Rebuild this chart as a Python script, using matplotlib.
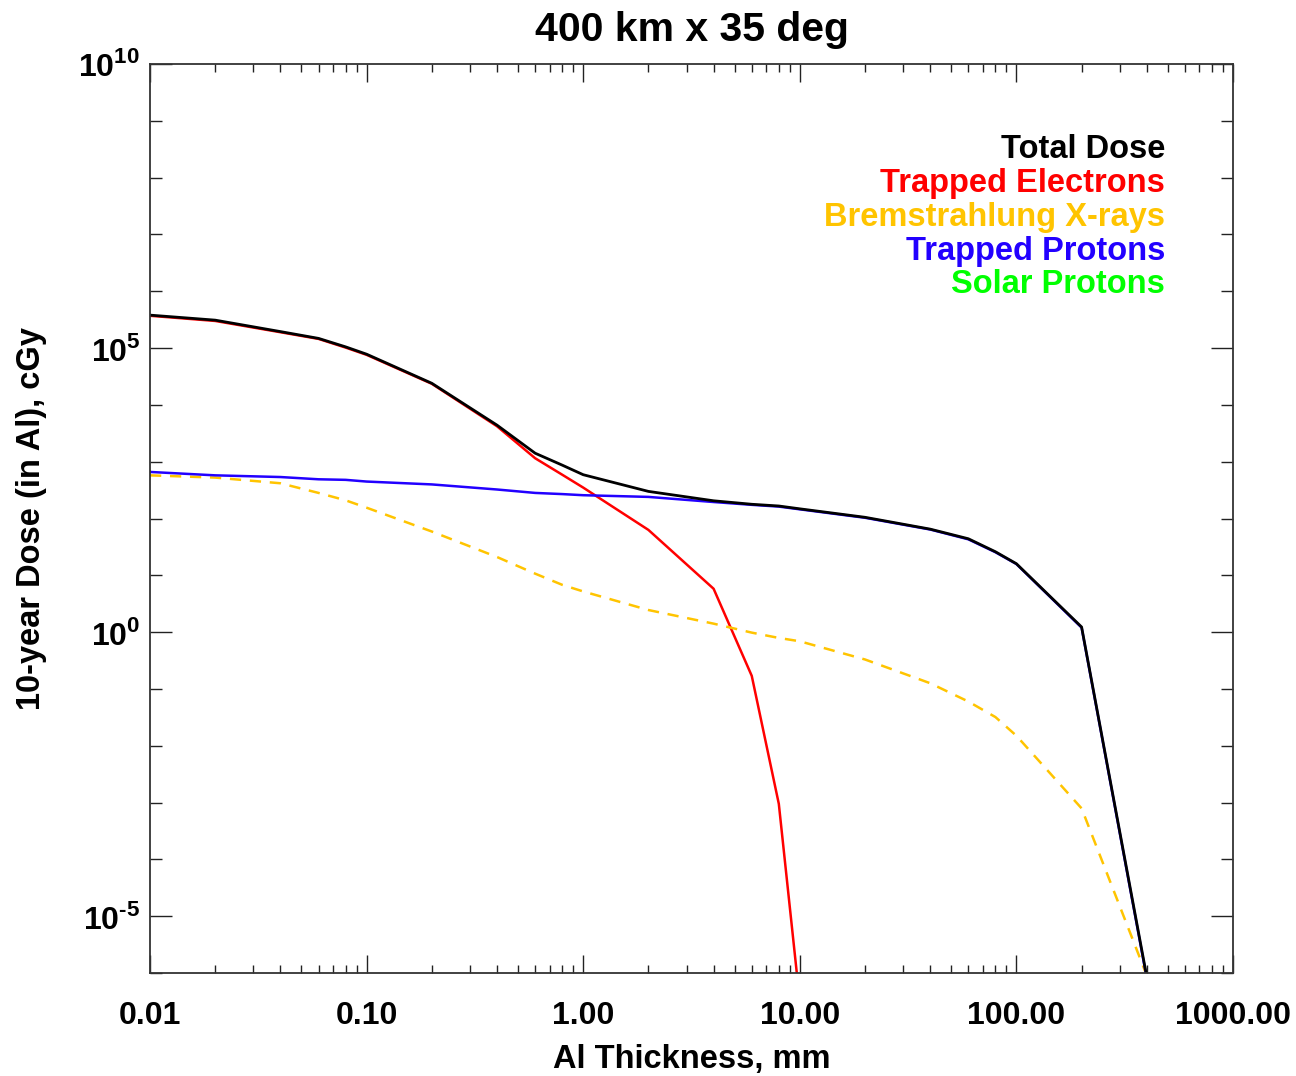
import numpy as np
import matplotlib
matplotlib.use("Agg")
import matplotlib.pyplot as plt
from matplotlib.ticker import FixedLocator, FuncFormatter, LogLocator, NullFormatter

plt.rcParams['font.family'] = ['Liberation Sans', 'DejaVu Sans']
plt.rcParams['font.weight'] = 'bold'
plt.rcParams['mathtext.fontset'] = 'custom'
plt.rcParams['mathtext.rm'] = 'Liberation Sans'
plt.rcParams['mathtext.bf'] = 'Liberation Sans:bold'

# ---- dose-depth curves (Al thickness in mm, dose in cGy over 10 years) ----
thickness = [0.01, 0.02, 0.04, 0.06, 0.08, 0.1, 0.2, 0.4, 0.6, 0.8, 1.0,
             2.0, 4.0, 6.0, 8.0, 10.0, 20.0, 40.0, 60.0, 80.0, 100.0, 200.0, 400.0]

total_dose = [3.8e5, 3.1e5, 1.95e5, 1.48e5, 1.05e5, 7.8e4, 2.4e4, 4.4e3, 1.41e3, 870, 590,
              300, 205, 178, 166, 148, 105, 65, 44, 26, 16, 1.23, 8.5e-7]

trapped_electrons = [3.7e5, 3.0e5, 1.9e5, 1.45e5, 1.02e5, 7.6e4, 2.35e4, 4.2e3, 1.15e3, 590, 350,
                     63, 5.8, 0.17, 9.5e-4, 3.2e-7]

bremsstrahlung = [575, 525, 417, 282, 209, 155, 59, 21, 10.7, 6.8, 5.2,
                  2.45, 1.41, 0.98, 0.79, 0.69, 0.33, 0.126, 0.06, 0.032, 0.015, 7.9e-4, 9.0e-7]

trapped_protons = [660, 575, 537, 490, 479, 447, 398, 324, 282, 269, 257,
                   240, 195, 174, 162, 145, 103, 64, 43, 25.5, 15.8, 1.2, 8.0e-7]

legend_labels = ['Total Dose', 'Trapped Electrons', 'Bremstrahlung X-rays',
                 'Trapped Protons', 'Solar Protons']
legend_colors = ['black', '#ff0000', '#ffc400', '#2200ff', '#00ff00']

fig = plt.figure(figsize=(12.96, 10.76), dpi=100)
ax = fig.add_axes([150 / 1296, 1 - 973 / 1076, 1083 / 1296, 909 / 1076])

ax.plot(thickness[:len(trapped_electrons)], trapped_electrons, color='#ff0000', lw=1.8)
ax.plot(thickness, bremsstrahlung, color='#ffc400', lw=1.8, dashes=(4.5, 3.5))
ax.plot(thickness, trapped_protons, color='#2200ff', lw=1.8)
ax.plot(thickness, total_dose, color='black', lw=2.0)

ax.set_xscale('log')
ax.set_yscale('log')
ax.set_xlim(0.01, 1000)
ax.set_ylim(1e-6, 1e10)

# x ticks: labelled decades, minor 2..9
ax.xaxis.set_major_locator(FixedLocator([0.01, 0.1, 1, 10, 100, 1000]))
ax.xaxis.set_minor_locator(LogLocator(base=10, subs=np.arange(2, 10), numticks=20))
ax.xaxis.set_major_formatter(FuncFormatter(lambda v, p: f'{v:.2f}'))
ax.xaxis.set_minor_formatter(NullFormatter())


def pow_label(v, p):
    k = int(round(np.log10(v)))
    exp = str(k).replace('-', '\u2010')
    return r'$\mathbf{10}^{\mathrm{%s}}$' % exp


# y ticks: labels every 5 decades, plain ticks at every decade
ax.yaxis.set_major_locator(FixedLocator([1e-5, 1e0, 1e5, 1e10]))
ax.yaxis.set_minor_locator(FixedLocator([10.0 ** k for k in range(-6, 11) if k % 5 != 0]))
ax.yaxis.set_major_formatter(FuncFormatter(pow_label))
ax.yaxis.set_minor_formatter(NullFormatter())

ax.tick_params(which='both', direction='in', top=True, right=True, width=1.0, color='#222222')
ax.tick_params(axis='x', which='major', length=13, pad=20, labelsize=23)
ax.tick_params(axis='x', which='minor', length=6)
ax.tick_params(axis='y', which='major', length=16, pad=7, labelsize=23)
ax.tick_params(axis='y', which='minor', length=8.5)
for sp in ax.spines.values():
    sp.set_linewidth(1.3)
    sp.set_color('#333333')

ax.set_xlabel('Al Thickness, mm', fontsize=23.5, fontweight='bold')
ax.xaxis.label.set_va('center')
ax.xaxis.set_label_coords(0.5, -0.0957)
ax.set_ylabel('10-year Dose (in Al), cGy', fontsize=23.5, fontweight='bold')
ax.yaxis.label.set_va('center')
ax.yaxis.set_label_coords(-0.109, 0.5)

fig.text(691.5 / 1296, 1 - 30 / 1076, '400 km x 35 deg', ha='center', va='center',
         fontsize=29.5, fontweight='bold')

# coloured text legend, right aligned
for i, (lab, col) in enumerate(zip(legend_labels, legend_colors)):
    ypix = 150 + i * 33.7
    ax.text((1165 - 150) / 1083, (973 - ypix) / 909, lab, color=col,
            ha='right', va='center', fontsize=23.5, fontweight='bold',
            transform=ax.transAxes)

fig.savefig('out.png', dpi=100)
